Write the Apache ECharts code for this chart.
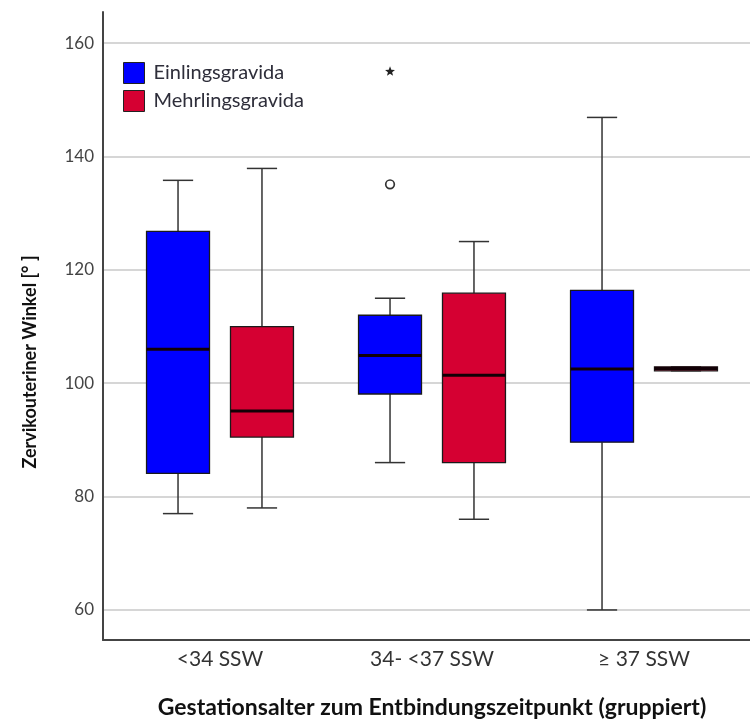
<!DOCTYPE html>
<html>
<head>
<meta charset="utf-8">
<script src="https://cdn.jsdelivr.net/npm/echarts@6/dist/echarts.min.js"></script>
<style>html,body{margin:0;padding:0;background:#fff}#chart{width:750px;height:719px}</style>
</head>
<body>
<div id="chart"></div>
<script>
// ---- data ----
const categories = ['<34 SSW', '34- <37 SSW', '\u2265 37 SSW'];
const seriesNames = ['Einlingsgravida', 'Mehrlingsgravida'];
// [min, Q1, median, Q3, max]
const einlingsBox = [
  [77, 84.1, 106, 126.8, 135.8],
  [86, 98.1, 104.9, 112, 115],
  [60, 89.6, 102.5, 116.4, 146.9]
];
const mehrlingsBox = [
  [78, 90.5, 95.1, 110, 137.9],
  [76, 86, 101.4, 115.9, 125],
  [102.2, 102.2, 102.6, 102.9, 102.9]
];
// outliers of Einlingsgravida: [categoryIndex, value, kind] kind 0 = circle, 1 = star (extreme)
const einlingsOutliers = [
  [1, 135.1, 0],
  [1, 155, 1]
];
const yTicks = [60, 80, 100, 120, 140, 160];

const BLUE = '#0000ff';
const RED = '#d50032';
const FONT = 'Lato, "Open Sans", sans-serif';
const Y_MIN = 54.7, Y_MAX = 165.5;

function boxData(arr) { return arr.map((d, i) => [i].concat(d)); }

function boxRenderer(sign, fill) {
  return function (params, api) {
    const cat = api.value(0);
    const band = api.size([1, 0])[0];
    const off = sign * band * 0.198;
    const bw = band * 0.297;
    const cx = api.coord([cat, 100])[0] + off;
    const y = v => api.coord([cat, v])[1];
    const yMin = y(api.value(1)), yQ1 = y(api.value(2)), yMed = y(api.value(3)),
          yQ3 = y(api.value(4)), yMax = y(api.value(5));
    const cap = bw * 0.48;
    const ws = { stroke: '#333', lineWidth: 1.5 };
    return {
      type: 'group',
      children: [
        { type: 'line', shape: { x1: cx, y1: yMax, x2: cx, y2: yQ3 }, style: ws },
        { type: 'line', shape: { x1: cx, y1: yQ1, x2: cx, y2: yMin }, style: ws },
        { type: 'line', shape: { x1: cx - cap / 2, y1: yMax, x2: cx + cap / 2, y2: yMax }, style: ws },
        { type: 'line', shape: { x1: cx - cap / 2, y1: yMin, x2: cx + cap / 2, y2: yMin }, style: ws },
        { type: 'rect', shape: { x: cx - bw / 2, y: yQ3, width: bw, height: Math.max(yQ1 - yQ3, 0.5) },
          style: { fill: fill, stroke: '#1a1a1a', lineWidth: 1.3 } },
        { type: 'line', shape: { x1: cx - bw / 2, y1: yMed, x2: cx + bw / 2, y2: yMed },
          style: { stroke: '#120006', lineWidth: 3 } }
      ]
    };
  };
}

function outlierRenderer(sign) {
  return function (params, api) {
    const cat = api.value(0);
    const band = api.size([1, 0])[0];
    const p = api.coord([cat, api.value(1)]);
    const cx = p[0] + sign * band * 0.198;
    const cy = p[1];
    if (api.value(2) === 0) {
      return { type: 'circle', shape: { cx: cx, cy: cy, r: 4.3 },
        style: { fill: '#fff', stroke: '#333', lineWidth: 1.7 } };
    }
    const pts = [];
    for (let k = 0; k < 10; k++) {
      const r = k % 2 === 0 ? 5.2 : 2.2;
      const a = -Math.PI / 2 + k * Math.PI / 5;
      pts.push([cx + r * Math.cos(a), cy + r * Math.sin(a)]);
    }
    return { type: 'polygon', shape: { points: pts }, style: { fill: '#222' } };
  };
}

const chart = echarts.init(document.getElementById('chart'), null, { renderer: 'canvas' });
chart.setOption({
  animation: false,
  backgroundColor: '#fff',
  textStyle: { fontFamily: FONT },
  grid: [
    { left: 103, right: 0, top: 12, bottom: 79, containLabel: false, outerBoundsMode: 'none' },
    { left: 114, right: 0, top: 12, bottom: 79, containLabel: false, outerBoundsMode: 'none' }
  ],
  legend: {
    orient: 'vertical',
    left: 123, top: 62, padding: 0,
    itemWidth: 21, itemHeight: 21, itemGap: 6,
    icon: 'rect',
    textStyle: { fontSize: 20, color: '#2e2e3a', fontFamily: FONT, padding: [0, 0, 0, 4] },
    data: [
      { name: seriesNames[0], itemStyle: { color: BLUE, borderColor: '#222', borderWidth: 1 } },
      { name: seriesNames[1], itemStyle: { color: RED, borderColor: '#222', borderWidth: 1 } }
    ]
  },
  xAxis: [
    {
      gridIndex: 0, type: 'value', min: 0, max: 1,
      axisLine: { show: true, onZero: false, lineStyle: { color: '#444', width: 2 } },
      axisTick: { show: false }, axisLabel: { show: false }, splitLine: { show: false }
    },
    {
      gridIndex: 1, type: 'category',
      data: categories,
      boundaryGap: true,
      axisLine: { show: false },
      axisTick: { show: false },
      axisLabel: { fontSize: 21, color: '#333', margin: 9, fontFamily: FONT },
      name: 'Gestationsalter zum Entbindungszeitpunkt (gruppiert)',
      nameLocation: 'middle',
      nameGap: 56,
      nameTextStyle: { fontSize: 23, fontWeight: 'bold', color: '#111', fontFamily: FONT }
    }
  ],
  yAxis: [
    {
      gridIndex: 0, type: 'value',
      min: Y_MIN, max: Y_MAX,
      splitNumber: 5,
      axisLine: { show: true, lineStyle: { color: '#444', width: 2 } },
      axisTick: { show: false },
      axisLabel: {
        fontSize: 17, color: '#444', margin: 9, fontFamily: FONT,
        showMinLabel: false, showMaxLabel: false,
        formatter: v => (yTicks.indexOf(Math.round(v)) >= 0 && Math.abs(v - Math.round(v)) < 1e-6) ? String(Math.round(v)) : ''
      },
      splitLine: { show: true, showMinLine: false, showMaxLine: false, lineStyle: { color: '#c8c8c8', width: 1.5 } }
    },
    {
      gridIndex: 1, type: 'value', min: Y_MIN, max: Y_MAX, show: false,
      splitLine: { show: false }
    }
  ],
  graphic: [{
    type: 'text',
    x: 30, y: 362,
    rotation: Math.PI / 2,
    style: {
      text: 'Zervikouteriner Winkel [\u00b0 ]',
      fontSize: 18, fontWeight: 'bold', fill: '#111', fontFamily: FONT,
      align: 'center', verticalAlign: 'middle'
    }
  }],
  series: [
    {
      name: seriesNames[0], type: 'custom', xAxisIndex: 1, yAxisIndex: 1,
      itemStyle: { color: BLUE },
      renderItem: boxRenderer(-1, BLUE),
      encode: { x: 0, y: [1, 2, 3, 4, 5] },
      data: boxData(einlingsBox), z: 3
    },
    {
      name: seriesNames[1], type: 'custom', xAxisIndex: 1, yAxisIndex: 1,
      itemStyle: { color: RED },
      renderItem: boxRenderer(1, RED),
      encode: { x: 0, y: [1, 2, 3, 4, 5] },
      data: boxData(mehrlingsBox), z: 3
    },
    {
      name: seriesNames[0] + ' Ausreißer', type: 'custom', xAxisIndex: 1, yAxisIndex: 1,
      renderItem: outlierRenderer(-1),
      encode: { x: 0, y: 1 },
      data: einlingsOutliers, z: 4
    }
  ]
});
</script>
</body>
</html>
